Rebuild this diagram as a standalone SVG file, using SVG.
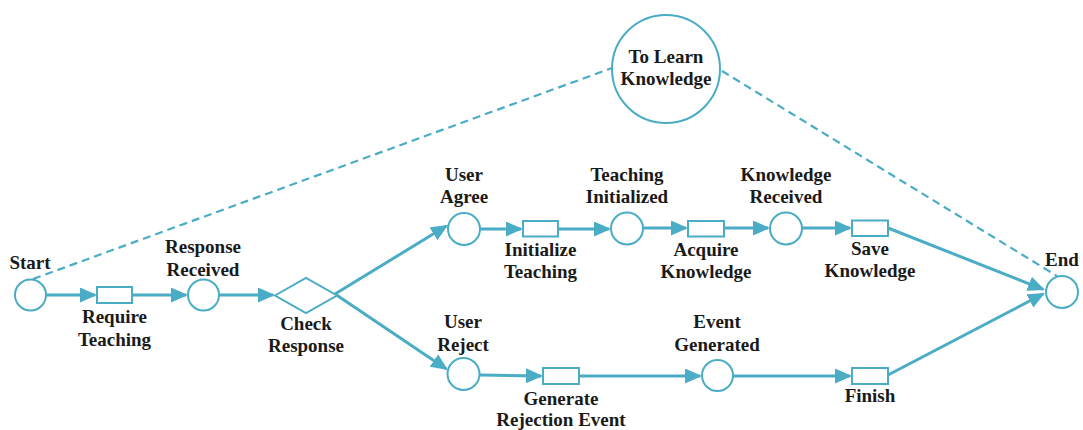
<svg xmlns="http://www.w3.org/2000/svg" width="1083" height="430" viewBox="0 0 1083 430">
<style>
.place{fill:#fff;stroke:#4BACC6;stroke-width:2}
.trans{fill:#fff;stroke:#4BACC6;stroke-width:2}
.arc{fill:none;stroke:#4BACC6;stroke-width:3}
.dash{fill:none;stroke:#4BACC6;stroke-width:2.2;stroke-dasharray:8 5}
.lbl{font-weight:bold;font-size:19px;fill:#1a1a1a;text-anchor:middle}
</style>
<defs>
<marker id="ah" markerUnits="userSpaceOnUse" markerWidth="17" markerHeight="15" refX="15" refY="7.5" orient="auto">
<path d="M0,0 L17,7.5 L0,15 z" fill="#4BACC6"/>
</marker>
</defs>
<rect width="1083" height="430" fill="#fff"/>
<g id="connectors">
<path class="dash" d="M33,279 L612,68"/>
<path class="dash" d="M722,71 L1057,276"/>
<path class="arc" marker-end="url(#ah)" d="M46,295 L95,295"/>
<path class="arc" marker-end="url(#ah)" d="M132,295 L186,295"/>
<path class="arc" marker-end="url(#ah)" d="M219,295 L273,295"/>
<path class="arc" marker-end="url(#ah)" d="M335,294 L446.3,226"/>
<path class="arc" marker-end="url(#ah)" d="M335,294 L446.3,368.9"/>
<path class="arc" marker-end="url(#ah)" d="M480,229 L521,229"/>
<path class="arc" marker-end="url(#ah)" d="M558,229 L609,229"/>
<path class="arc" marker-end="url(#ah)" d="M643,228 L686,228"/>
<path class="arc" marker-end="url(#ah)" d="M724,228 L768,228"/>
<path class="arc" marker-end="url(#ah)" d="M802,228 L850,228"/>
<path class="arc" marker-end="url(#ah)" d="M888,228 L1043.1,289.3"/>
<path class="arc" marker-end="url(#ah)" d="M888,375 L1043.2,293.9"/>
<path class="arc" marker-end="url(#ah)" d="M480,375 L541,376"/>
<path class="arc" marker-end="url(#ah)" d="M579,376 L700,376"/>
<path class="arc" marker-end="url(#ah)" d="M733,376 L850,376"/>
</g>
<g font-family="Liberation Serif, serif">
<g id="to-learn-knowledge">
<circle class="place" cx="666" cy="69" r="54"/>
<text class="lbl" x="666" y="63">To Learn</text>
<text class="lbl" x="666" y="85">Knowledge</text>
</g>
<g id="start">
<circle class="place" cx="30.5" cy="295" r="15.5"/>
<text class="lbl" x="30" y="269">Start</text>
</g>
<g id="require-teaching">
<rect class="trans" x="97" y="287" width="35" height="16"/>
<text class="lbl" x="114.5" y="323">Require</text>
<text class="lbl" x="114.5" y="346">Teaching</text>
</g>
<g id="response-received">
<circle class="place" cx="203.5" cy="295" r="15.5"/>
<text class="lbl" x="203" y="253">Response</text>
<text class="lbl" x="203" y="276">Received</text>
</g>
<g id="check-response">
<path class="trans" d="M275,295.5 L306,278 L337,295.5 L306,313 z"/>
<text class="lbl" x="306" y="330">Check</text>
<text class="lbl" x="306" y="352">Response</text>
</g>
<g id="user-agree">
<circle class="place" cx="464" cy="229" r="16"/>
<text class="lbl" x="464" y="181">User</text>
<text class="lbl" x="464" y="203">Agree</text>
</g>
<g id="initialize-teaching">
<rect class="trans" x="523" y="221" width="35" height="15.5"/>
<text class="lbl" x="540.5" y="256">Initialize</text>
<text class="lbl" x="540.5" y="278">Teaching</text>
</g>
<g id="teaching-initialized">
<circle class="place" cx="627" cy="228.5" r="16"/>
<text class="lbl" x="627" y="181">Teaching</text>
<text class="lbl" x="627" y="203">Initialized</text>
</g>
<g id="acquire-knowledge">
<rect class="trans" x="688" y="221" width="36" height="15.5"/>
<text class="lbl" x="706" y="256">Acquire</text>
<text class="lbl" x="706" y="278">Knowledge</text>
</g>
<g id="knowledge-received">
<circle class="place" cx="786" cy="228.5" r="16"/>
<text class="lbl" x="786" y="181">Knowledge</text>
<text class="lbl" x="786" y="203">Received</text>
</g>
<g id="save-knowledge">
<rect class="trans" x="852" y="220.5" width="36" height="15.5"/>
<text class="lbl" x="870" y="255">Save</text>
<text class="lbl" x="870" y="277">Knowledge</text>
</g>
<g id="end">
<circle class="place" cx="1062" cy="292" r="16"/>
<text class="lbl" x="1062" y="266">End</text>
</g>
<g id="user-reject">
<circle class="place" cx="463.5" cy="374" r="16"/>
<text class="lbl" x="463" y="328">User</text>
<text class="lbl" x="463" y="351">Reject</text>
</g>
<g id="generate-rejection-event">
<rect class="trans" x="543" y="368" width="36" height="16"/>
<text class="lbl" x="561" y="405">Generate</text>
<text class="lbl" x="561" y="426">Rejection Event</text>
</g>
<g id="event-generated">
<circle class="place" cx="717.5" cy="375.5" r="15.5"/>
<text class="lbl" x="717" y="328">Event</text>
<text class="lbl" x="717" y="351">Generated</text>
</g>
<g id="finish">
<rect class="trans" x="852" y="368" width="36" height="16"/>
<text class="lbl" x="870" y="402">Finish</text>
</g>
</g>
</svg>
